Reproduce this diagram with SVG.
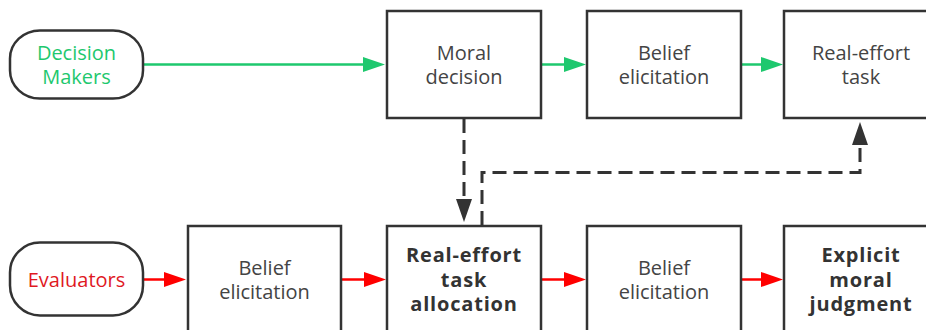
<svg xmlns="http://www.w3.org/2000/svg" width="926" height="330" viewBox="0 0 926 330">
<style>
.box{fill:#fff;stroke:#333;stroke-width:2.5}
.pill{fill:#fff;stroke:#333;stroke-width:2.5}
.t{font-family:"Open Sans","Noto Sans","Liberation Sans",sans-serif;font-size:20px;fill:#444;text-anchor:middle}
.b{font-weight:bold;fill:#333;letter-spacing:0.8px}
.g{stroke:#1ec86e;stroke-width:2.5;fill:none}
.r{stroke:#ff0000;stroke-width:2.5;fill:none}
.d{stroke:#333;stroke-width:3;fill:none;stroke-dasharray:14 7}
</style>
<defs>
<marker id="ag" markerUnits="userSpaceOnUse" markerWidth="22" markerHeight="15" refX="12" refY="7.5" orient="auto"><path d="M0,0 L22,7.5 L0,15 z" fill="#1ec86e"/></marker>
<marker id="ar" markerUnits="userSpaceOnUse" markerWidth="22" markerHeight="15" refX="12" refY="7.5" orient="auto"><path d="M0,0 L22,7.5 L0,15 z" fill="#ff0000"/></marker>
<marker id="ad" markerUnits="userSpaceOnUse" markerWidth="23" markerHeight="16" refX="13" refY="8" orient="auto"><path d="M0,0 L23,8 L0,16 z" fill="#333"/></marker>
</defs>
<g id="connectors">
<line class="g" x1="144" y1="64.5" x2="375" y2="64.5" marker-end="url(#ag)"/>
<line class="g" x1="541" y1="64.5" x2="576" y2="64.5" marker-end="url(#ag)"/>
<line class="g" x1="741" y1="64.5" x2="773" y2="64.5" marker-end="url(#ag)"/>
<line class="r" x1="143" y1="279.5" x2="176" y2="279.5" marker-end="url(#ar)"/>
<line class="r" x1="341" y1="279.5" x2="376" y2="279.5" marker-end="url(#ar)"/>
<line class="r" x1="541" y1="279.5" x2="576" y2="279.5" marker-end="url(#ar)"/>
<line class="r" x1="741" y1="279.5" x2="773" y2="279.5" marker-end="url(#ar)"/>
<path class="d" d="M464,119 L464,212" marker-end="url(#ad)"/>
<path class="d" d="M482,225 L482,172.5 L860,172.5 L860,132" marker-end="url(#ad)"/>
</g>
<g id="decision-makers">
<rect class="pill" x="10" y="30.5" width="133" height="68" rx="30" ry="28"/>
<text class="t" x="76.5" y="60" style="fill:#1ec86e">Decision</text>
<text class="t" x="76.5" y="83.5" style="fill:#1ec86e">Makers</text>
</g>
<g id="moral-decision">
<rect class="box" x="387" y="11" width="154" height="107"/>
<text class="t" x="464" y="60">Moral</text>
<text class="t" x="464" y="83.5">decision</text>
</g>
<g id="belief-top">
<rect class="box" x="587" y="11" width="154" height="107"/>
<text class="t" x="664" y="60">Belief</text>
<text class="t" x="664" y="83.5">elicitation</text>
</g>
<g id="real-effort-task">
<rect class="box" x="784" y="11" width="154" height="107"/>
<text class="t" x="861" y="60">Real-effort</text>
<text class="t" x="861" y="83.5">task</text>
</g>
<g id="evaluators">
<rect class="pill" x="10" y="242.5" width="133" height="73" rx="30" ry="30"/>
<text class="t" x="76.5" y="286.5" style="fill:#e0191f">Evaluators</text>
</g>
<g id="belief-bottom-1">
<rect class="box" x="188" y="226" width="153" height="107"/>
<text class="t" x="264.5" y="275">Belief</text>
<text class="t" x="264.5" y="299">elicitation</text>
</g>
<g id="task-allocation">
<rect class="box" x="387" y="226" width="154" height="107"/>
<text class="t b" x="464" y="261.5">Real-effort</text>
<text class="t b" x="464" y="286.5">task</text>
<text class="t b" x="464" y="310.5">allocation</text>
</g>
<g id="belief-bottom-2">
<rect class="box" x="587" y="226" width="154" height="107"/>
<text class="t" x="664" y="275">Belief</text>
<text class="t" x="664" y="299">elicitation</text>
</g>
<g id="explicit-judgment">
<rect class="box" x="784" y="226" width="154" height="107"/>
<text class="t b" x="861" y="261.5">Explicit</text>
<text class="t b" x="861" y="286.5">moral</text>
<text class="t b" x="861" y="310.5">judgment</text>
</g>
</svg>
